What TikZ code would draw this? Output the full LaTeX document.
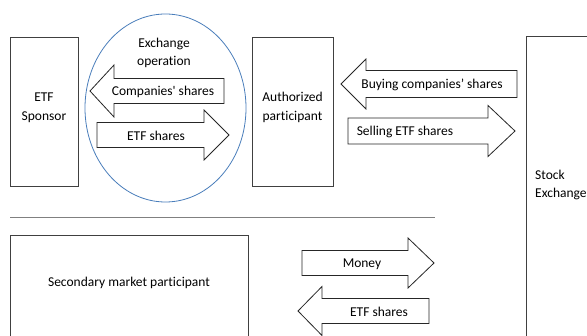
\documentclass[tikz,border=0pt]{standalone}
\usepackage{fontspec}
\setmainfont{Carlito}[Ligatures={TeXOff,CommonOff}]
\usetikzlibrary{shapes.geometric}
\definecolor{boxc}{HTML}{404040}
\definecolor{ellc}{HTML}{4A7EBB}
\newcommand{\fatarrow}[7]{% name, bodyend, headbase, tip, y, bodyhalf, headhalf
  \draw[arr] (#2,{#5-#6}) -- (#3,{#5-#6}) -- (#3,{#5-#7}) -- (#4,#5) -- (#3,{#5+#7}) -- (#3,{#5+#6}) -- (#2,{#5+#6}) -- cycle;
  \coordinate (#1) at ({(#2+#4)/2},#5);}
\begin{document}
\begin{tikzpicture}[x=1pt,y=-1pt,
  box/.style={draw=boxc, line width=0.8pt, rectangle, inner sep=0pt},
  arr/.style={draw=black!85, line width=0.8pt, fill=white},
  lbl/.style={font=\fontsize{13.5}{18.5}\selectfont, inner sep=0pt, align=center}]
\useasboundingbox (0,0) rectangle (587,336);
\clip (0,0) rectangle (587,336);
\fill[white] (0,0) rectangle (587,336);
% boxes
\node[box, minimum width=68pt, minimum height=149pt] (sponsor) at (44,111.5) {};
\node[lbl] (sponsorT) at (44,108) {ETF\\Sponsor};
\node[box, minimum width=81pt, minimum height=149pt] (ap) at (292.5,111.5) {};
\node[lbl] (apT) at (292.5,107.5) {Authorized\\participant};
\node[box, minimum width=80pt, minimum height=320pt, anchor=north west] (se) at (526,36) {};
\node[lbl, align=left, anchor=west] (seT) at (535,185) {Stock\\Exchange};
\node[box, minimum width=238pt, minimum height=120pt, anchor=north west] (smp) at (10,235) {};
\node[lbl] (smpT) at (129,283) {Secondary market participant};
% ellipse
\node[draw=ellc, line width=0.8pt, ellipse, minimum width=161pt, minimum height=188pt, inner sep=0pt] (exop) at (165.5,108) {};
\node[lbl] (exopT) at (164,53) {Exchange\\operation};
% arrows
\fatarrow{a1}{224}{114}{90}{91}{12.5}{26}
\node[lbl] (a1T) at (163,92) {Companies' shares};
\fatarrow{a2}{97}{204}{229}{135}{12.5}{25}
\node[lbl] (a2T) at (156,136) {ETF shares};
\fatarrow{a3}{517}{366}{341}{84}{13.5}{25}
\node[lbl] (a3T) at (432,85) {Buying companies’ shares};
\fatarrow{a4}{348}{488}{515}{131}{13}{25.5}
\node[lbl] (a4T) at (405,132) {Selling ETF shares};
\fatarrow{a5}{302}{408}{434}{263}{12.5}{25}
\node[lbl] (a5T) at (362,264) {Money};
\fatarrow{a6}{429}{322}{298}{311}{12.5}{24.5}
\node[lbl] (a6T) at (379,312) {ETF shares};
% separator
\coordinate (hl) at (10,217);
\coordinate (hr) at (435,217);
\draw[gray, line width=0.8pt] (hl) -- (hr);
\end{tikzpicture}
\end{document}
